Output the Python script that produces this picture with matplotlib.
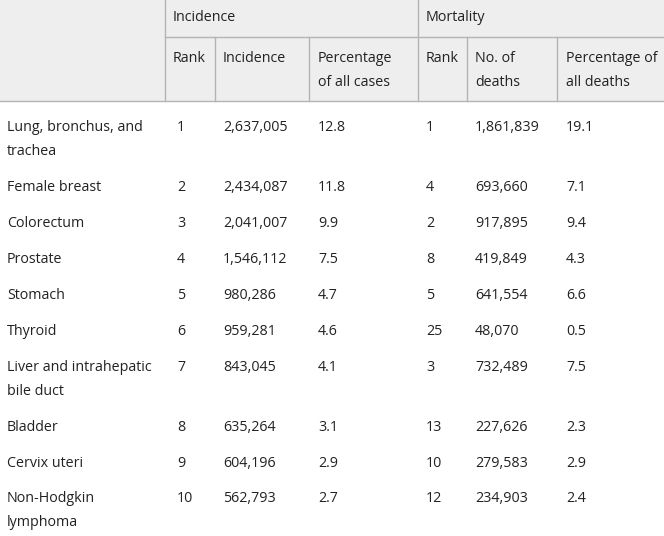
import matplotlib
matplotlib.use("Agg")
import matplotlib.pyplot as plt
from matplotlib.lines import Line2D
from matplotlib.patches import Rectangle

plt.rcParams['font.family'] = ['Open Sans', 'DejaVu Sans']

sites = ["Lung, bronchus, and\ntrachea", "Female breast", "Colorectum", "Prostate",
         "Stomach", "Thyroid", "Liver and intrahepatic\nbile duct", "Bladder",
         "Cervix uteri", "Non-Hodgkin\nlymphoma"]
inc_rank = [1, 2, 3, 4, 5, 6, 7, 8, 9, 10]
incidence = [2637005, 2434087, 2041007, 1546112, 980286, 959281, 843045, 635264, 604196, 562793]
inc_pct = [12.8, 11.8, 9.9, 7.5, 4.7, 4.6, 4.1, 3.1, 2.9, 2.7]
mort_rank = [1, 4, 2, 8, 5, 25, 3, 13, 10, 12]
deaths = [1861839, 693660, 917895, 419849, 641554, 48070, 732489, 227626, 279583, 234903]
mort_pct = [19.1, 7.1, 9.4, 4.3, 6.6, 0.5, 7.5, 2.3, 2.9, 2.4]

group_headers = ["Incidence", "Mortality"]
sub_headers = ["Rank", "Incidence", "Percentage\nof all cases", "Rank", "No. of\ndeaths", "Percentage of\nall deaths"]

W, H = 664, 536
fig = plt.figure(figsize=(W / 100, H / 100), dpi=100)
fig.patch.set_facecolor("white")

def fx(x):
    return x / W

def fy(y):
    return 1 - y / H

TXT = "#222222"
LINE = "#b4b4b4"
FS = 10.3
LINE_H = 24

# header background
fig.patches.append(Rectangle((0, fy(101)), 1, 101 / H, transform=fig.transFigure,
                             facecolor="#eeeeee", edgecolor="none", zorder=0))

def hline(y, x0, x1):
    fig.lines.append(Line2D([fx(x0), fx(x1)], [fy(y), fy(y)], transform=fig.transFigure,
                            color=LINE, lw=1))

def vline(x, y0, y1):
    fig.lines.append(Line2D([fx(x), fx(x)], [fy(y0), fy(y1)], transform=fig.transFigure,
                            color=LINE, lw=1))

hline(36.5, 165, W)
hline(101, 0, W)
vline(165, 0, 101)
vline(418, 0, 101)
for x in [215, 309, 467, 557]:
    vline(x, 36.5, 101)

def put(x, baseline, s):
    for k, line in enumerate(s.split("\n")):
        fig.text(fx(x), fy(baseline + k * LINE_H), line, ha="left", va="baseline",
                 fontsize=FS, color=TXT)

# group headers
put(173, 21, group_headers[0])
put(426, 21, group_headers[1])

sub_x = [173, 223, 318, 426, 475, 566]
for x, s in zip(sub_x, sub_headers):
    put(x, 62, s)

row_base = [131, 191, 227, 263, 299, 335, 371, 431, 467, 502]
col_x = [7, 177, 223, 318, 426, 475, 566]
for i in range(len(sites)):
    y = row_base[i]
    put(col_x[0], y, sites[i])
    put(col_x[1], y, str(inc_rank[i]))
    put(col_x[2], y, f"{incidence[i]:,}")
    put(col_x[3], y, f"{inc_pct[i]}")
    put(col_x[4], y, str(mort_rank[i]))
    put(col_x[5], y, f"{deaths[i]:,}")
    put(col_x[6], y, f"{mort_pct[i]}")

fig.savefig("out.png", dpi=100)
